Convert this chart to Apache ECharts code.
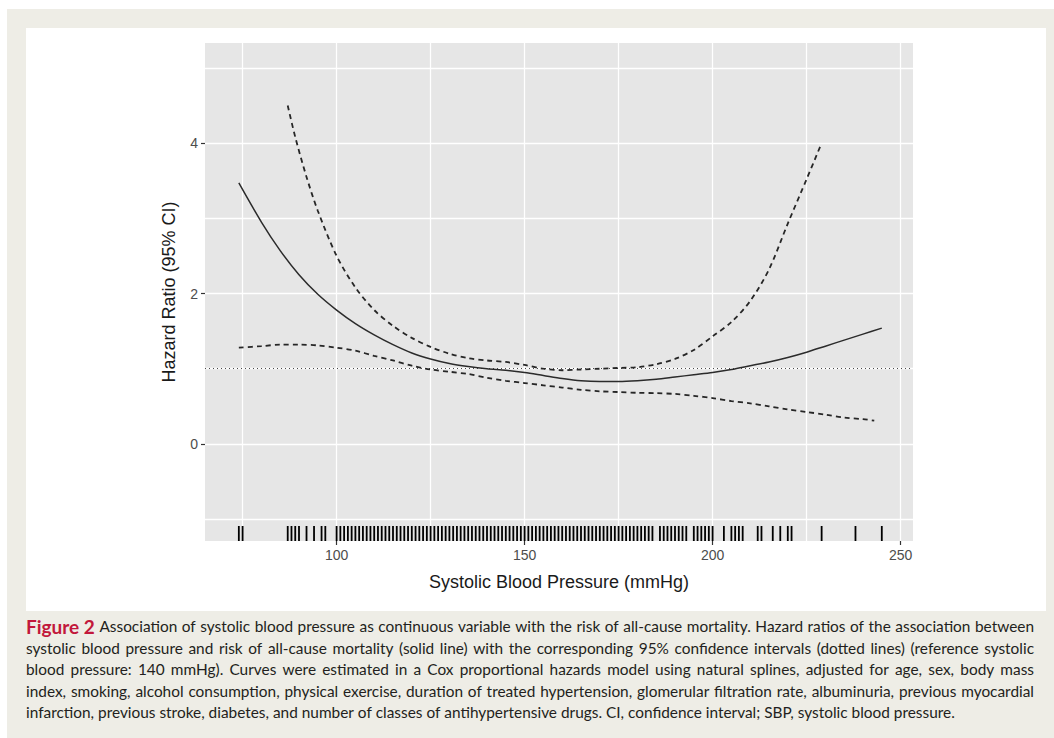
<!DOCTYPE html>
<html>
<head>
<meta charset="utf-8">
<title>Systolic blood pressure and all-cause mortality</title>
<script src="https://cdn.jsdelivr.net/npm/echarts@6/dist/echarts.min.js"></script>
<style>
  html, body { margin: 0; padding: 0; background: #ffffff; }
  #chart { width: 1054px; height: 738px; }
</style>
</head>
<body>
<div id="chart"></div>
<script>
// ---- Data ---------------------------------------------------------------
// Hazard ratio estimate (solid line): [SBP mmHg, HR]
const hrEstimate = [
  [74, 3.47], [80, 2.95], [85, 2.57], [90, 2.25], [95, 1.99], [100, 1.78],
  [105, 1.60], [110, 1.45], [115, 1.32], [120, 1.21], [125, 1.13], [130, 1.07],
  [135, 1.03], [140, 1.00], [145, 0.98], [150, 0.95], [155, 0.91], [160, 0.87],
  [165, 0.84], [170, 0.83], [175, 0.83], [180, 0.84], [185, 0.86], [190, 0.89],
  [195, 0.92], [200, 0.95], [205, 0.99], [210, 1.04], [215, 1.09], [220, 1.15],
  [225, 1.22], [230, 1.30], [235, 1.38], [240, 1.46], [245, 1.54]
];
// Upper 95% confidence limit (dashed)
const hrUpper = [
  [87, 4.50], [89, 4.08], [92, 3.55], [95, 3.10], [100, 2.50], [105, 2.08],
  [110, 1.78], [115, 1.57], [120, 1.41], [125, 1.29], [130, 1.20], [135, 1.14],
  [140, 1.11], [145, 1.09], [150, 1.05], [155, 1.00], [160, 0.98], [165, 0.99],
  [170, 1.00], [175, 1.01], [180, 1.02], [185, 1.06], [190, 1.13], [195, 1.25],
  [200, 1.43], [205, 1.62], [210, 1.90], [215, 2.32], [220, 2.93], [225, 3.52],
  [229, 4.00]
];
// Lower 95% confidence limit (dashed)
const hrLower = [
  [74, 1.28], [80, 1.30], [85, 1.32], [90, 1.32], [95, 1.31], [100, 1.28],
  [105, 1.24], [110, 1.17], [115, 1.11], [120, 1.04], [125, 0.99], [130, 0.96],
  [135, 0.93], [140, 0.88], [145, 0.84], [150, 0.81], [155, 0.78], [160, 0.75],
  [165, 0.72], [170, 0.70], [175, 0.69], [180, 0.68], [185, 0.675], [190, 0.665],
  [195, 0.64], [200, 0.61], [205, 0.57], [210, 0.54], [215, 0.50], [220, 0.46],
  [225, 0.425], [230, 0.39], [235, 0.35], [240, 0.33], [243, 0.31]
];
// Reference hazard ratio (horizontal dotted line)
const referenceHR = 1;

// Observed SBP values shown as a rug along the x axis
const rugSbp = [
  74, 75, 87, 88, 89, 90, 92, 94, 96, 97,
  100, 101, 102, 103, 104, 105, 106, 107, 108, 109,
  110, 111, 112, 113, 114, 115, 116, 117, 118, 119,
  120, 121, 122, 123, 124, 125, 126, 127, 128, 129,
  130, 131, 132, 133, 134, 135, 136, 137, 138, 139,
  140, 141, 142, 143, 144, 145, 146, 147, 148, 149,
  150, 151, 152, 153, 154, 155, 156, 157, 158, 159,
  160, 161, 162, 163, 164, 165, 166, 167, 168, 169,
  170, 171, 172, 173, 174, 175, 176, 177, 178, 179,
  180, 181, 182, 183, 184, 186, 187, 188, 189, 190,
  191, 192, 193, 195, 196, 197, 198, 199, 200,
  203, 205, 206, 207, 208, 212, 213, 216, 218, 220, 221,
  229, 238, 245
];

// Axis ranges and breaks
const xRange = [65.0, 253.3];
const yRange = [-1.29, 5.33];
const xLabelBreaks = [100, 150, 200, 250];
const xGridBreaks = [75, 100, 125, 150, 175, 200, 225, 250];
const yLabelBreaks = [0, 2, 4];
const yGridBreaks = [-1, 0, 1, 2, 3, 4, 5];

const xTitle = 'Systolic Blood Pressure (mmHg)';
const yTitle = 'Hazard Ratio (95% CI)';

const figureLabel = 'Figure 2';
const captionLines = [
  'Association of systolic blood pressure as continuous variable with the risk of all-cause mortality. Hazard ratios of the association between',
  'systolic blood pressure and risk of all-cause mortality (solid line) with the corresponding 95% confidence intervals (dotted lines) (reference systolic',
  'blood pressure: 140 mmHg). Curves were estimated in a Cox proportional hazards model using natural splines, adjusted for age, sex, body mass',
  'index, smoking, alcohol consumption, physical exercise, duration of treated hypertension, glomerular filtration rate, albuminuria, previous myocardial',
  'infarction, previous stroke, diabetes, and number of classes of antihypertensive drugs. CI, confidence interval; SBP, systolic blood pressure.'
];

// ---- Layout ---------------------------------------------------------------
const PANEL = { left: 205, top: 43, width: 708, height: 498 };
const AXIS_FONT = 'Liberation Sans';
const CAPTION_FONT = 'Lato';
const CAPTION_SIZE = 15.4;
const LABEL_SIZE = 19;
const CAPTION_LEFT = 26, CAPTION_RIGHT = 1034;
const CAPTION_TOP = 626, CAPTION_STEP = 21.6;

// Justified caption: every word is placed as its own text element
function buildCaption() {
  const ctx = document.createElement('canvas').getContext('2d');
  const measure = (t, bold) => {
    ctx.font = (bold ? 'bold ' + LABEL_SIZE : CAPTION_SIZE) + 'px ' + CAPTION_FONT;
    return ctx.measureText(t).width;
  };
  const elements = [];
  captionLines.forEach((line, i) => {
    const words = line.split(' ').map(w => ({ text: w, bold: false }));
    if (i === 0) {
      figureLabel.split(' ').reverse().forEach(w => words.unshift({ text: w, bold: true }));
    }
    const widths = words.map(w => measure(w.text, w.bold));
    const total = widths.reduce((a, b) => a + b, 0);
    const last = i === captionLines.length - 1;
    const space = measure(' ', false);
    const gap = last ? space : (CAPTION_RIGHT - CAPTION_LEFT - total) / (words.length - 1);
    let x = CAPTION_LEFT;
    const y = CAPTION_TOP + i * CAPTION_STEP;
    words.forEach((w, k) => {
      elements.push({
        type: 'text', x: x, y: y, silent: true, z: 10,
        style: {
          text: w.text,
          fontFamily: CAPTION_FONT,
          fontSize: w.bold ? LABEL_SIZE : CAPTION_SIZE,
          fontWeight: w.bold ? 'bold' : 'normal',
          fill: w.bold ? '#c2183b' : '#231f20',
          verticalAlign: 'middle', align: 'left'
        }
      });
      x += widths[k] + gap;
    });
  });
  return elements;
}

const chart = echarts.init(document.getElementById('chart'), null, { renderer: 'svg' });

const curveStyle = { color: '#2b2b2b', width: 1.5 };
const dashStyle = { color: '#262626', width: 1.8, pattern: [5, 4] };

chart.setOption({
  animation: false,
  backgroundColor: 'transparent',
  graphic: [
    { type: 'rect', z: -100, silent: true, shape: { x: 7, y: 9, width: 1047, height: 729 }, style: { fill: '#eeede6' } },
    { type: 'rect', z: -99, silent: true, shape: { x: 26, y: 28, width: 1020, height: 583 }, style: { fill: '#ffffff' } }
  ].concat(buildCaption()),
  grid: {
    left: PANEL.left, top: PANEL.top, width: PANEL.width, height: PANEL.height,
    show: true, backgroundColor: '#e6e6e6', borderWidth: 0, containLabel: false
  },
  xAxis: [
    {
      type: 'value', min: xRange[0], max: xRange[1], position: 'bottom',
      axisLine: { show: false, onZero: false },
      axisTick: { show: true, length: 4, customValues: xLabelBreaks, lineStyle: { color: '#333333', width: 1.2 } },
      axisLabel: { customValues: xLabelBreaks, color: '#4d4d4d', fontSize: 14, fontFamily: AXIS_FONT, margin: 7 },
      splitLine: { show: false },
      name: xTitle, nameLocation: 'middle', nameGap: 32,
      nameTextStyle: { color: '#1a1a1a', fontSize: 18, fontFamily: AXIS_FONT }
    },
    {
      type: 'value', min: xRange[0], max: xRange[1], position: 'bottom',
      axisLine: { show: false, onZero: false },
      axisTick: { show: false, customValues: xGridBreaks },
      axisLabel: { show: false },
      splitLine: { show: true, lineStyle: { color: '#ffffff', width: 1.3 } }
    }
  ],
  yAxis: [
    {
      type: 'value', min: yRange[0], max: yRange[1], position: 'left',
      axisLine: { show: false, onZero: false },
      axisTick: { show: true, length: 4, customValues: yLabelBreaks, lineStyle: { color: '#333333', width: 1.2 } },
      axisLabel: { customValues: yLabelBreaks, color: '#4d4d4d', fontSize: 14, fontFamily: AXIS_FONT, margin: 7 },
      splitLine: { show: false },
      name: yTitle, nameLocation: 'middle', nameGap: 27, nameRotate: 90,
      nameTextStyle: { color: '#1a1a1a', fontSize: 18, fontFamily: AXIS_FONT }
    },
    {
      type: 'value', min: yRange[0], max: yRange[1], position: 'left',
      axisLine: { show: false, onZero: false },
      axisTick: { show: false, customValues: yGridBreaks },
      axisLabel: { show: false },
      splitLine: { show: true, lineStyle: { color: '#ffffff', width: 1.3 } }
    }
  ],
  series: [
    {
      name: 'Reference', type: 'line', data: [], z: 3, silent: true,
      markLine: {
        silent: true, symbol: ['none', 'none'], label: { show: false },
        lineStyle: { color: '#4a4a4a', width: 1.2, type: [1, 3] },
        data: [{ yAxis: referenceHR }]
      }
    },
    {
      name: 'Rug', type: 'custom', z: 4, silent: true,
      data: rugSbp,
      renderItem: function (params, api) {
        const p = api.coord([api.value(0), yRange[0]]);
        return {
          type: 'line',
          shape: { x1: p[0], y1: p[1], x2: p[0], y2: p[1] - 15 },
          style: { stroke: '#000000', lineWidth: 1.8 }
        };
      }
    },
    {
      name: 'Upper 95% CI', type: 'line', data: hrUpper, smooth: 0.3, showSymbol: false, z: 5,
      lineStyle: { color: dashStyle.color, width: dashStyle.width, type: dashStyle.pattern }
    },
    {
      name: 'Lower 95% CI', type: 'line', data: hrLower, smooth: 0.3, showSymbol: false, z: 5,
      lineStyle: { color: dashStyle.color, width: dashStyle.width, type: dashStyle.pattern }
    },
    {
      name: 'Hazard ratio', type: 'line', data: hrEstimate, smooth: 0.3, showSymbol: false, z: 6,
      lineStyle: { color: curveStyle.color, width: curveStyle.width, type: 'solid' }
    }
  ]
});
</script>
</body>
</html>
